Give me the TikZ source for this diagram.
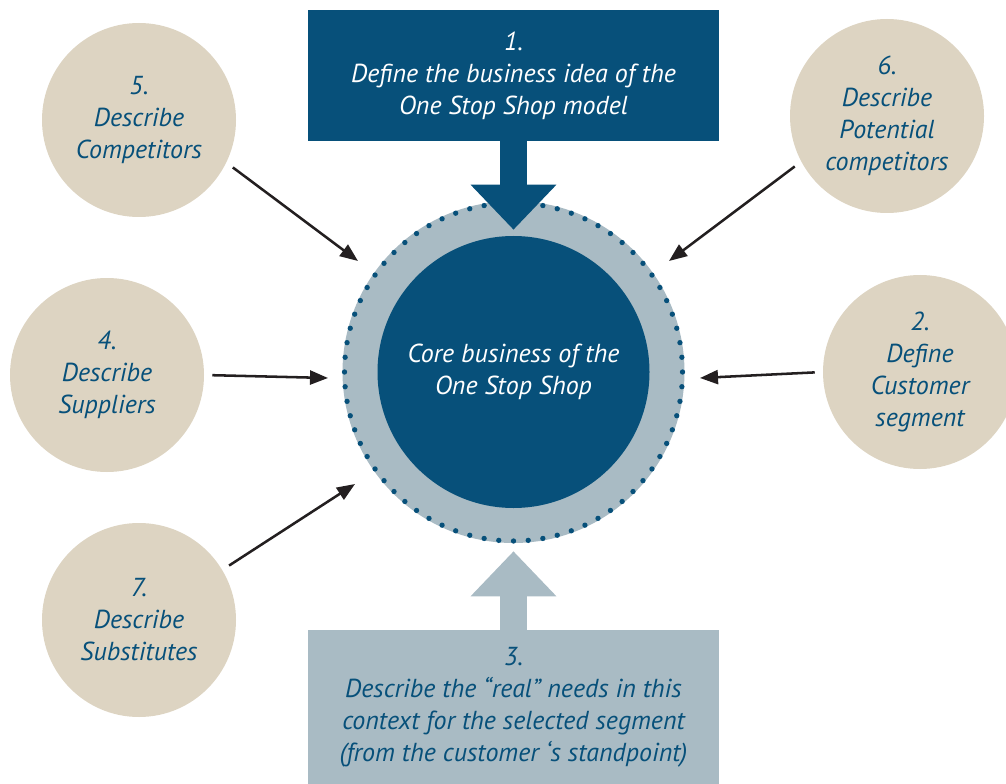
\documentclass[tikz,border=0pt]{standalone}
\usepackage{fontspec}
\setmainfont{PT Sans}
\usetikzlibrary{arrows.meta}

\definecolor{ossblue}{HTML}{07507A}
\definecolor{ossgrey}{HTML}{A9BBC4}
\definecolor{ossbeige}{HTML}{DDD4C2}
\definecolor{ossink}{HTML}{231F20}
\newcommand{\ossfont}{\fontsize{19.5}{24}\selectfont\itshape}

\begin{document}
\begin{tikzpicture}
      [
      x=0.75pt,y=-0.75pt,
      task/.style={circle,fill=ossbeige,text=ossblue,inner sep=0pt,minimum size=145.5pt,align=center,font=\ossfont},
      topbox/.style={rectangle,fill=ossblue,text=white,inner sep=0pt,minimum width=308.25pt,minimum height=98.25pt,align=center,font=\ossfont},
      bottombox/.style={rectangle,fill=ossgrey,text=ossblue,inner sep=0pt,minimum width=308.25pt,minimum height=115.5pt,align=center,font=\ossfont},
      feed/.style={draw=ossink,line width=1.9pt,shorten <=6pt,-{Triangle[length=13.5pt,width=10.5pt]}},
      blockdown/.style={draw=ossblue,line width=20.25pt,-{Triangle[length=33.75pt,width=62.25pt]}},
      blockup/.style={draw=ossgrey,line width=20.25pt,-{Triangle[length=33.75pt,width=62.25pt]}}
      ]
      \useasboundingbox (0,0) rectangle (1006,784);

      % centre
      \node (ring) at (513.5,372) [circle,fill=ossgrey,inner sep=0pt,minimum size=256.5pt] {};
      \foreach \a in {0,5,...,355}
        \fill [ossblue] (ring.center) ++(\a:126.75pt) circle [radius=2pt];
      \node (core) at (513.5,372) [circle,fill=ossblue,text=white,inner sep=0pt,minimum size=204pt,align=center,font=\ossfont] {Core business of the\\One Stop Shop};

      % boxes
      \node (idea) at (513.5,75.5) [topbox] {1.\\Define the business idea of the\\One Stop Shop model};
      \node (needs) at (513.5,707) [bottombox] {3.\\Describe the “real” needs in this\\context for the selected segment\\(from the customer ‘s standpoint)};
      \draw [blockdown] (idea.south) -- ([yshift=4.5pt]core.north);
      \draw [blockup] (needs.north) -- ([yshift=-6pt]ring.south);

      % circles round the centre
      \node (comp) at (139,120) [task] {5.\\Describe\\Competitors};
      \node (potential) at (887,116) [task] {6.\\Describe\\Potential\\competitors};
      \node (suppl) at (107,375) [task] {4.\\Describe\\Suppliers};
      \node (segment) at (920,372) [task] {2.\\Define\\Customer\\segment};
      \node (subst) at (139,620) [task] {7.\\Describe\\Substitutes};

      \coordinate (t5) at (358,261);
      \coordinate (t6) at (669,261);
      \coordinate (t4) at (328,378);
      \coordinate (t2) at (700,378);
      \coordinate (t7) at (355,484);
      \draw [feed] (comp.-26) -- (t5);
      \draw [feed] (potential.-152) -- (t6);
      \draw [feed] (suppl.0) -- (t4);
      \draw [feed] (segment.180) -- (t2);
      \draw [feed] (subst.31) -- (t7);
    \end{tikzpicture}
\end{document}
